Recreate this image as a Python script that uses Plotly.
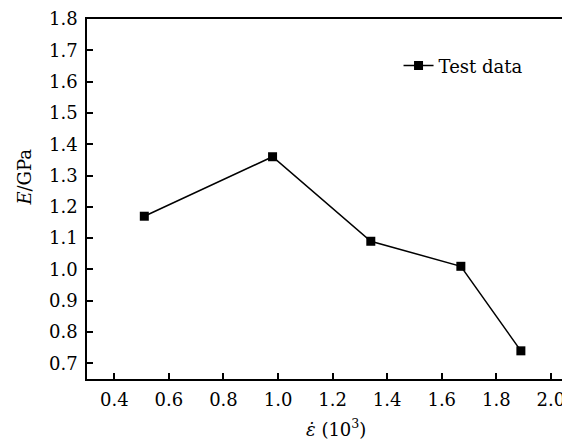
import plotly.graph_objects as go

strain_rate = [0.51, 0.98, 1.34, 1.67, 1.89]
modulus = [1.17, 1.36, 1.09, 1.01, 0.74]
series_name = "Test data"
x_ticks = [0.4, 0.6, 0.8, 1.0, 1.2, 1.4, 1.6, 1.8, 2.0]
y_ticks = [0.7, 0.8, 0.9, 1.0, 1.1, 1.2, 1.3, 1.4, 1.5, 1.6, 1.7, 1.8]

font = "DejaVu Serif, Liberation Serif, serif"

fig = go.Figure()
fig.add_trace(go.Scatter(
    x=strain_rate, y=modulus, mode="lines+markers", name=series_name,
    line=dict(color="black", width=1.5),
    marker=dict(symbol="square", size=9, color="black"),
))

fig.update_layout(
    width=562, height=438,
    margin=dict(l=79, r=0, t=11, b=67),
    paper_bgcolor="white", plot_bgcolor="white",
    font=dict(family=font, size=18, color="black"),
    showlegend=True,
    legend=dict(x=0.645, y=0.87, xanchor="left", yanchor="middle",
                bgcolor="rgba(0,0,0,0)", font=dict(size=18), itemwidth=30),
    xaxis=dict(
        range=[0.3, 2.07], tickvals=x_ticks, ticktext=[f"{v:.1f}" for v in x_ticks],
        ticks="inside", ticklen=6, tickwidth=1.5, tickcolor="black",
        showline=True, linecolor="black", linewidth=1.5, mirror=True,
        showgrid=False, zeroline=False, automargin=False, ticklabelstandoff=4,
    ),
    yaxis=dict(
        range=[0.65, 1.8], tickvals=y_ticks, ticktext=[f"{v:.1f}" for v in y_ticks],
        ticks="inside", ticklen=6, tickwidth=1.5, tickcolor="black",
        showline=True, linecolor="black", linewidth=1.5,
        showgrid=False, zeroline=False, automargin=False, ticklabelstandoff=4,
    ),
    annotations=[
        dict(text="<i>E</i>/GPa", textangle=-90, xref="paper", yref="paper",
             x=-0.13, y=0.56, xanchor="center", yanchor="middle", showarrow=False,
             font=dict(size=18)),
        dict(text="<i>ε̇</i> (10<sup>3</sup>)", xref="paper", yref="paper",
             x=0.515, y=-0.135, xanchor="center", yanchor="middle", showarrow=False,
             font=dict(size=18)),
    ],
)

fig.write_html("out.html")
